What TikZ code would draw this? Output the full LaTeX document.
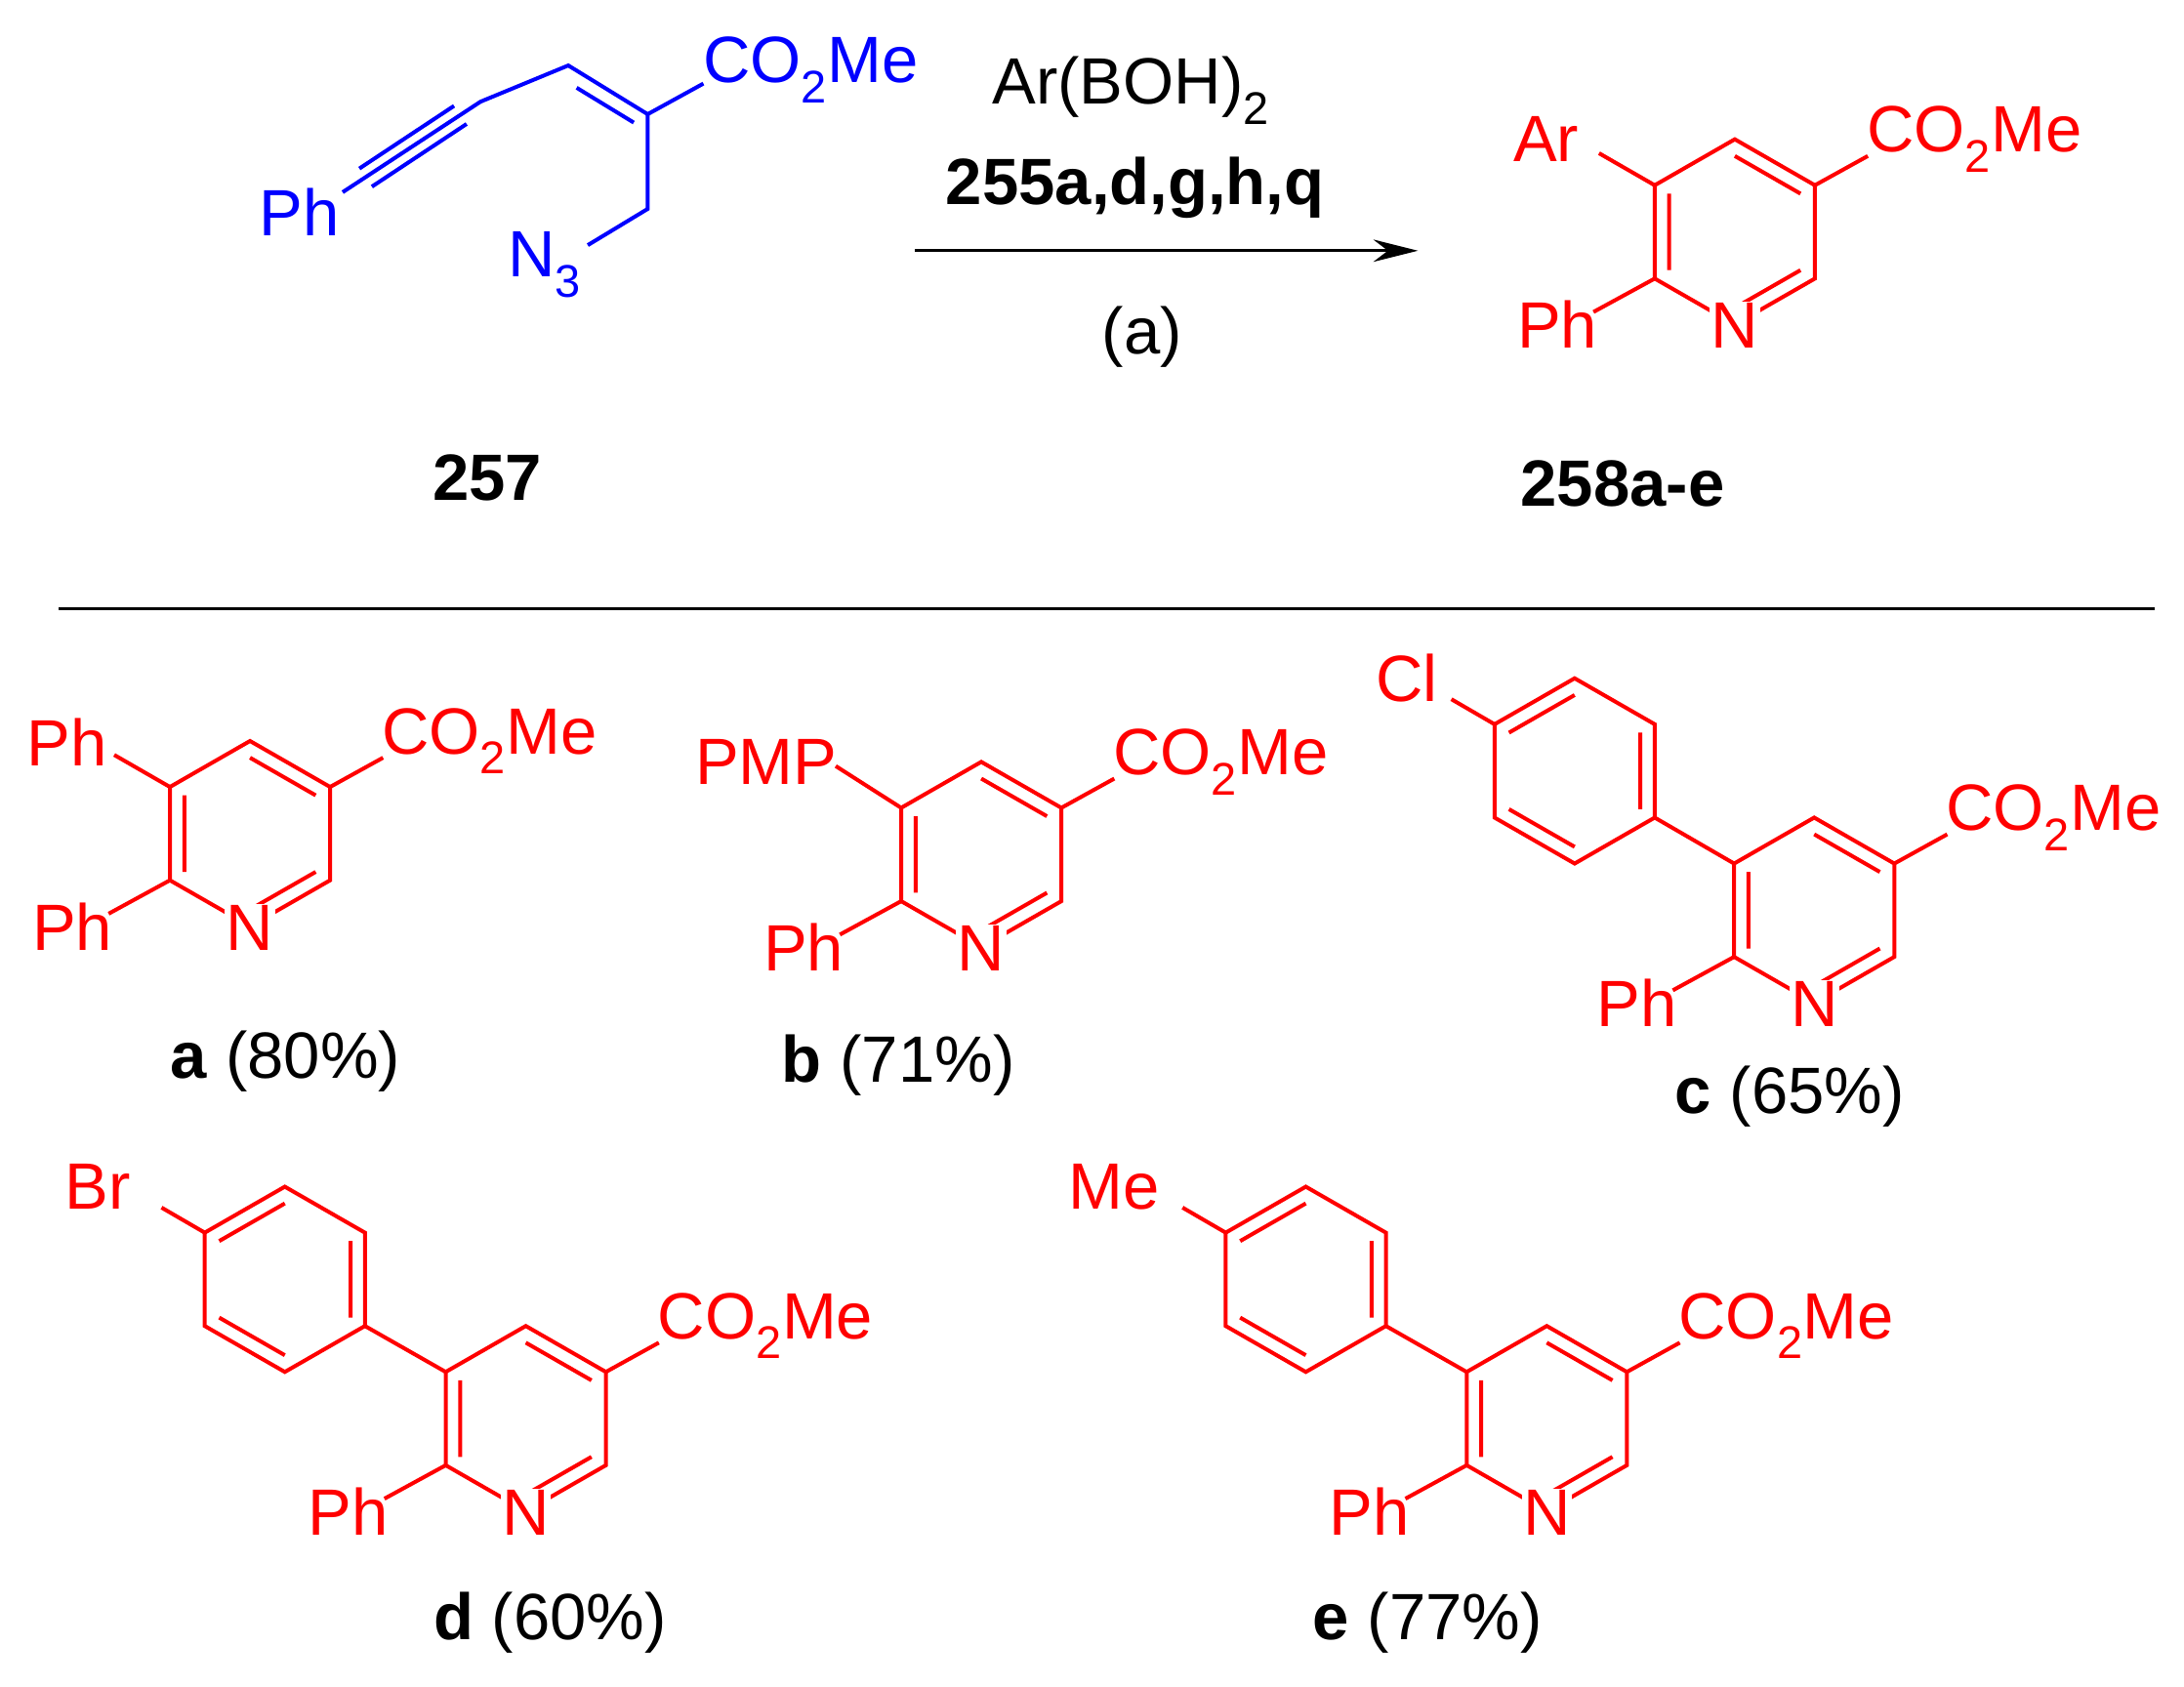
\documentclass[tikz,border=0pt]{standalone}
\usepackage{fontspec}
\setmainfont{Liberation Sans}
\usetikzlibrary{arrows.meta}
\definecolor{mred}{RGB}{255,0,0}
\definecolor{mblue}{RGB}{0,0,255}
\tikzset{
 bnd/.style={line width=2.8pt},
 lab/.style={inner sep=1pt,font=\fontsize{47}{56}\selectfont},
 pyr/.pic={
  \draw[bnd] (0,0)--(57.5,-33)--(115,0)--(115,67)--(57.5,100)--(0,67)--cycle;
  \draw[bnd] (57.5,-21)--(104.65,6.03) (104.65,60.97)--(57.5,88) (10.35,60.97)--(10.35,6.03);
  \node[lab,fill=white] at (57.5,101) {N};
  \draw[bnd] (115,0)--(153,-21);
  \node[lab,anchor=west] at (151,-33) {CO\textsubscript{2}Me};
  \draw[bnd] (0,67)--(-44,91);
  \node[lab,anchor=east] at (-40,100) {Ph};
 },
 phr/.pic={
  \draw[bnd] (0,0)--(0,-67)--(-57.5,-100)--(-115,-67)--(-115,0)--(-57.5,33)--cycle;
  \draw[bnd] (-10.35,-6.03)--(-10.35,-60.97) (-57.5,-88)--(-104.65,-60.97) (-104.65,-6.03)--(-57.5,21);
  \draw[bnd] (-115,-67)--(-146,-85);
 }
}
\begin{document}
\begin{tikzpicture}[x=1pt,y=-1pt]
\useasboundingbox (0,0) rectangle (1568,1211);
% starting material
\begin{scope}[mblue]
\draw[bnd] (246,138)--(345,73)--(408,47)--(465,82)--(465,150)--(422,176);
\draw[bnd] (258,121)--(326,76) (267,134)--(335,89);
\draw[bnd] (414,63)--(455,88);
\draw[bnd] (465,82)--(505,60);
\node[lab] (sm1) at (582,50) {CO\textsubscript{2}Me};
\node[lab] (sm2) at (215,152) {Ph};
\node[lab] (sm3) at (391,190) {N\textsubscript{3}};
\end{scope}
% arrow and conditions
\coordinate (a1) at (657,180);
\coordinate (a2) at (1018,180);
\draw[line width=2pt,-{Stealth[length=32pt,width=16pt]}] (a1)--(a2);
\node[lab] (r1) at (812,65) {Ar(BOH)\textsubscript{2}};
\node[lab] (r2) at (815,135) {\bfseries 255a,d,g,h,q};
\node[lab] (r3) at (820,242) {(a)};
\node[lab] (l1) at (350,343) {\bfseries 257};
\node[lab] (l2) at (1165,347) {\bfseries 258a-e};
\coordinate (s1) at (42,437);
\coordinate (s2) at (1547,437);
\draw[line width=2pt] (s1)--(s2);
% products
\begin{scope}[mred]
\pic at (1188,133) {pyr};
\draw[bnd] (1188,133)--(1148,110);
\node[lab] at (1110,100) {Ar};
% a
\pic at (122,565) {pyr};
\draw[bnd] (122,565)--(82,542);
\node[lab] at (48,533) {Ph};
% b
\pic at (647,580) {pyr};
\draw[bnd] (647,580)--(600,550);
\node[lab] at (550,547) {PMP};
% c
\pic at (1245,620) {pyr};
\pic at (1188,587) {phr};
\draw[bnd] (1245,620)--(1188,587);
\node[lab] at (1010,487) {Cl};
% d
\pic at (320,985) {pyr};
\pic at (262,952) {phr};
\draw[bnd] (320,985)--(262,952);
\node[lab] at (70,852) {Br};
% e
\pic at (1053,985) {pyr};
\pic at (995,952) {phr};
\draw[bnd] (1053,985)--(995,952);
\node[lab] at (800,852) {Me};
\end{scope}
\node[lab] (ca) at (205,762) {\textbf{a} (80\%)};
\node[lab] (cb) at (645,765) {\textbf{b} (71\%)};
\node[lab] (cc) at (1285,787) {\textbf{c} (65\%)};
\node[lab] (cd) at (395,1165) {\textbf{d} (60\%)};
\node[lab] (ce) at (1025,1165) {\textbf{e} (77\%)};
\end{tikzpicture}
\end{document}
